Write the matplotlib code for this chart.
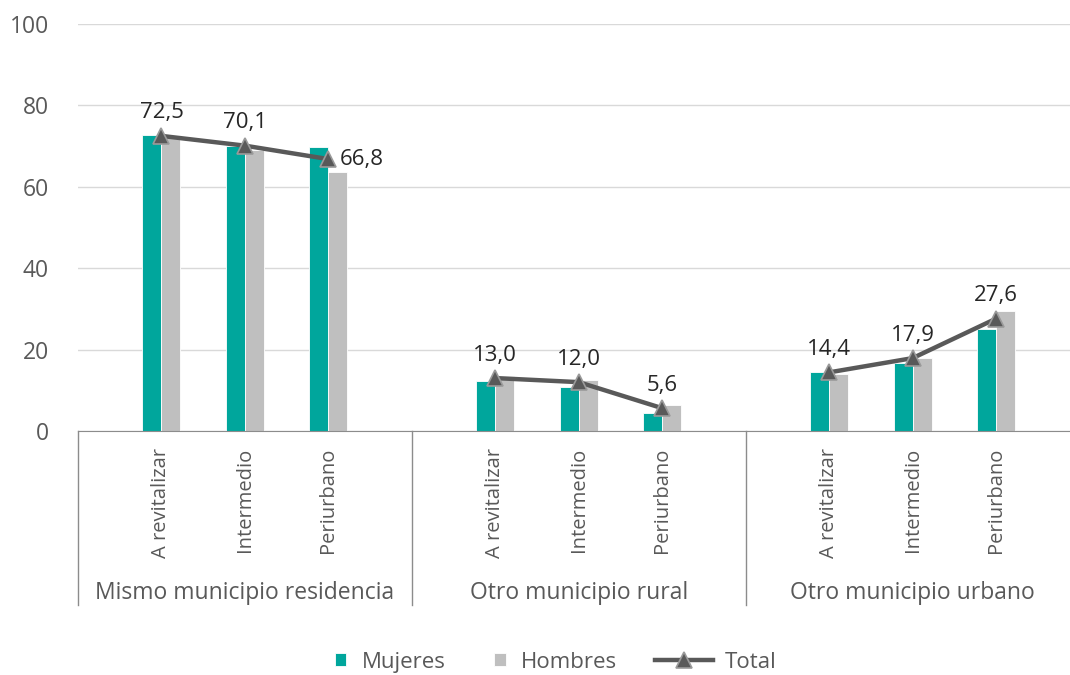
import matplotlib.pyplot as plt
import numpy as np

plt.rcParams['font.family'] = ['Open Sans', 'DejaVu Sans']

groups = ["Mismo municipio residencia", "Otro municipio rural", "Otro municipio urbano"]
categories = ["A revitalizar", "Intermedio", "Periurbano"]
mujeres = [72.6, 69.9, 69.8, 12.2, 10.9, 4.4, 14.5, 16.6, 25.1]
hombres = [72.4, 69.0, 63.6, 13.5, 12.5, 6.3, 14.0, 17.9, 29.4]
total = [72.5, 70.1, 66.8, 13.0, 12.0, 5.6, 14.4, 17.9, 27.6]
yticks = [0, 20, 40, 60, 80, 100]

teal = "#00A69C"
gray = "#BFBFBF"
dark = "#595959"

fig = plt.figure(figsize=(10.7, 6.75), dpi=100)
ax = fig.add_axes([0.0729, 0.3615, 0.936, 0.603])

# x positions: 4 slots per group, the last slot of each group left empty
pos = np.array([4 * g + i + 1 for g in range(len(groups)) for i in range(len(categories))])
w = 0.228

bm = ax.bar(pos - w / 2, mujeres, w, color=teal, edgecolor="white", linewidth=0.6, zorder=2)
bh = ax.bar(pos + w / 2, hombres, w, color=gray, edgecolor="white", linewidth=0.6, zorder=2)

line = None
for g in range(len(groups)):
    sl = slice(3 * g, 3 * g + 3)
    l, = ax.plot(pos[sl], total[sl], color=dark, lw=3.2, marker="^", ms=11,
                 mfc=dark, mec="#9A9A9A", mew=1.2, zorder=3)
    line = line or l

for k, (x, v) in enumerate(zip(pos, total)):
    txt = f"{v:.1f}".replace(".", ",")
    if k == 2:
        ax.annotate(txt, (x, v), xytext=(8, 0), textcoords="offset points",
                    ha="left", va="center", fontsize=16, color="#262626")
    else:
        ax.annotate(txt, (x, v), xytext=(0, 9), textcoords="offset points",
                    ha="center", va="bottom", fontsize=16, color="#262626")

ax.set_xlim(0, 12)
ax.set_ylim(0, 100)
ax.set_yticks(yticks)
ax.set_yticklabels([str(t) for t in yticks], fontsize=16.5, color=dark)
ax.tick_params(axis="y", length=0, pad=21)
ax.grid(axis="y", color="#D9D9D9", lw=1, zorder=0)
ax.set_axisbelow(True)

ax.set_xticks(pos)
ax.set_xticklabels(categories * len(groups), rotation=90, fontsize=14.5, color=dark, va="top")
ax.tick_params(axis="x", length=0, pad=12)

for s in ["top", "right", "left"]:
    ax.spines[s].set_visible(False)
ax.spines["bottom"].set_color("#8C8C8C")

trans = ax.get_xaxis_transform()
for g in range(len(groups) + 1):
    ax.plot([4 * g, 4 * g], [0, -0.4275], transform=trans, color="#8C8C8C", lw=1, clip_on=False)
for g, name in enumerate(groups):
    ax.text(4 * g + 2, -0.398, name, transform=trans, ha="center", va="center",
            fontsize=16.5, color=dark)

fig.legend([bm, bh], ["Mujeres", "Hombres"], loc="center left",
           bbox_to_anchor=(335 / 1070, 0.019), ncol=2, frameon=False, fontsize=16,
           labelcolor=dark, handlelength=0.5, handleheight=0.5, columnspacing=2.2,
           handletextpad=0.7, borderpad=0, borderaxespad=0)
fig.legend([line], ["Total"], loc="center left",
           bbox_to_anchor=(655 / 1070, 0.019), frameon=False, fontsize=16,
           labelcolor=dark, handlelength=2.6, handletextpad=0.55,
           borderpad=0, borderaxespad=0)

fig.savefig("out.png", dpi=100)
